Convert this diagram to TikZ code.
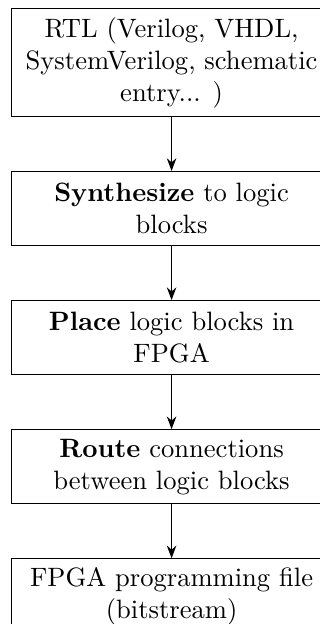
\documentclass[tikz,border=0pt]{standalone}
\usetikzlibrary{positioning,arrows.meta}
\begin{document}
\begin{tikzpicture}[
  stepbox/.style={draw, align=center, inner sep=3.33pt,
    minimum width=120.5pt, minimum height=27.9pt},
  flow/.style={-{Stealth}},
  node distance=20.3pt
]
% visible frame of the figure; the boxes run past its right and bottom edges
\useasboundingbox (-4.14pt,3pt) rectangle (116.3pt,-231.9pt);
\clip (-4.14pt,3pt) rectangle (116.3pt,-231.9pt);

% FPGA design flow, top to bottom
\node[stepbox, minimum height=39.9pt, anchor=north west] (rtl) at (0,0)
  {RTL (Verilog, VHDL,\\ SystemVerilog, schematic\\ entry... )};
\node[stepbox, below=of rtl] (syn) {\textbf{Synthesize} to logic\\ blocks};
\node[stepbox, below=of syn] (place) {\textbf{Place} logic blocks in\\ FPGA};
\node[stepbox, below=of place] (route) {\textbf{Route} connections\\ between logic blocks};
\node[stepbox, below=of route] (bits) {FPGA programming file\\ (bitstream)};

\draw[flow] (rtl) -- (syn);
\draw[flow] (syn) -- (place);
\draw[flow] (place) -- (route);
\draw[flow] (route) -- (bits);
\end{tikzpicture}
\end{document}
